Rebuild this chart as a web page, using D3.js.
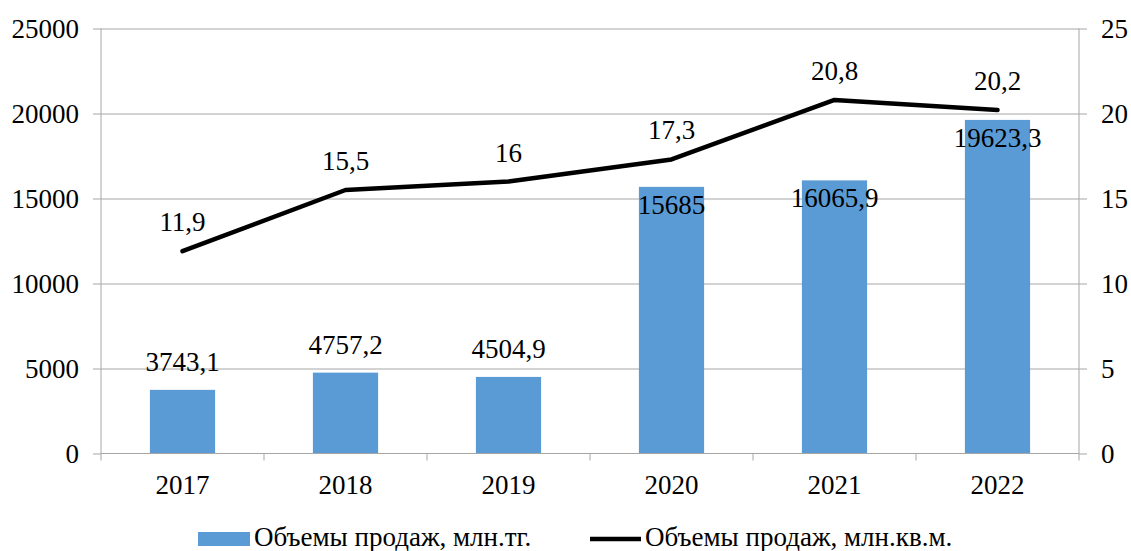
<!DOCTYPE html>
<html>
<head>
<meta charset="utf-8">
<script src="https://cdn.jsdelivr.net/npm/d3@7"></script>
<style>
	body { margin: 0; background: #fff; }
	.grid line { stroke: #a6a6a6; stroke-width: 1; }
	.axis path, .axis line { stroke: #a6a6a6; stroke-width: 1; }
</style>
</head>
<body>
<div id="chart"></div>
<script>
// data
const years = ['2017', '2018', '2019', '2020', '2021', '2022'];
const salesMoney = [3743.1, 4757.2, 4504.9, 15685, 16065.9, 19623.3];   // млн.тг.
const salesArea = [11.9, 15.5, 16, 17.3, 20.8, 20.2];                     // млн.кв.м.
const leftTicks = [0, 5000, 10000, 15000, 20000, 25000];
const rightTicks = [0, 5, 10, 15, 20, 25];
const seriesNames = ['Объемы продаж, млн.тг.', 'Объемы продаж, млн.кв.м.'];

const W = 1131, H = 551;
const m = { top: 28.5, right: 52, bottom: 97.5, left: 101 };
const width = W - m.left - m.right,
	height = H - m.top - m.bottom;
const fs = 27;
const FONT = '"Liberation Serif", "Times New Roman", Times, "DejaVu Serif", serif';
const fmt = v => String(v).replace('.', ',');

const svg = d3.select('#chart').append('svg')
	.attr('width', W)
	.attr('height', H);
const g = svg.append('g').attr('transform', `translate(${m.left},${m.top})`);

const x = d3.scaleBand().domain(years).range([0, width]).paddingInner(0.6).paddingOuter(0.3);
const xc = d3.scaleBand().domain(years).range([0, width]);
const y = d3.scaleLinear().domain([0, 25000]).range([height, 0]);
const y2 = d3.scaleLinear().domain([0, 25]).range([height, 0]);

// gridlines
g.append('g').classed('grid', true)
	.selectAll('line')
	.data(leftTicks.slice(1))
	.enter().append('line')
	.attr('x1', 0).attr('x2', width)
	.attr('y1', d => Math.round(y(d)) + 0.5)
	.attr('y2', d => Math.round(y(d)) + 0.5);

// bars
g.append('g').selectAll('rect')
	.data(salesMoney)
	.enter().append('rect')
	.attr('x', (d, i) => x(years[i]))
	.attr('width', x.bandwidth())
	.attr('y', d => y(d))
	.attr('height', d => height - y(d))
	.attr('fill', '#5b9bd5');

// axes
const leftAxis = d3.axisLeft(y).tickValues(leftTicks).tickSize(8).tickPadding(14).tickFormat(d => d);
const rightAxis = d3.axisRight(y2).tickValues(rightTicks).tickSize(8).tickPadding(14).tickFormat(d => d);

const customAxis = ax => {
	ax.attr('font-family', FONT).attr('font-size', fs);
	ax.selectAll('text').attr('fill', '#000');
	ax.select('.domain').attr('d', null);
};

g.append('g').classed('axis', true)
	.call(leftAxis)
	.call(customAxis)
	.append('line').attr('x1', 0).attr('x2', 0).attr('y1', 0).attr('y2', height);

g.append('g').classed('axis', true)
	.attr('transform', `translate(${width},0)`)
	.call(rightAxis)
	.call(customAxis)
	.append('line').attr('x1', 0).attr('x2', 0).attr('y1', 0).attr('y2', height);

// bottom axis: baseline, boundary ticks, labels
const xAxisG = g.append('g').classed('axis', true)
	.attr('transform', `translate(0,${height})`);
xAxisG.append('line').attr('x1', 0).attr('x2', width).attr('y1', 0).attr('y2', 0);
xAxisG.selectAll('.tk')
	.data(years.concat(['end']))
	.enter().append('line')
	.attr('x1', (d, i) => i * xc.step())
	.attr('x2', (d, i) => i * xc.step())
	.attr('y1', 0).attr('y2', 7);
xAxisG.selectAll('text')
	.data(years)
	.enter().append('text')
	.attr('x', d => xc(d) + xc.bandwidth() / 2)
	.attr('y', 40)
	.attr('text-anchor', 'middle')
	.attr('font-family', FONT)
	.attr('font-size', fs)
	.text(d => d);

// line series
const line = d3.line()
	.x((d, i) => xc(years[i]) + xc.bandwidth() / 2)
	.y(d => y2(d));

g.append('path')
	.datum(salesArea)
	.attr('d', line)
	.attr('fill', 'none')
	.attr('stroke', '#000')
	.attr('stroke-width', 4.5)
	.attr('stroke-linecap', 'round')
	.attr('stroke-linejoin', 'round');

// bar labels (tall bars get them inside the top)
g.append('g').selectAll('text')
	.data(salesMoney)
	.enter().append('text')
	.attr('x', (d, i) => xc(years[i]) + xc.bandwidth() / 2)
	.attr('y', d => d > 10000 ? y(d) + 27 : y(d) - 19)
	.attr('text-anchor', 'middle')
	.attr('font-family', FONT)
	.attr('font-size', fs)
	.text(d => fmt(d));

// line labels
g.append('g').selectAll('text')
	.data(salesArea)
	.enter().append('text')
	.attr('x', (d, i) => xc(years[i]) + xc.bandwidth() / 2)
	.attr('y', d => y2(d) - 20)
	.attr('text-anchor', 'middle')
	.attr('font-family', FONT)
	.attr('font-size', fs)
	.text(d => fmt(d));

// legend
const lg = svg.append('g').attr('font-family', FONT).attr('font-size', fs);
lg.append('rect')
	.attr('x', 198).attr('y', 532).attr('width', 52).attr('height', 14)
	.attr('fill', '#5b9bd5');
lg.append('text')
	.attr('x', 254).attr('y', 546)
	.text(seriesNames[0]);
lg.append('line')
	.attr('x1', 590).attr('x2', 641).attr('y1', 539).attr('y2', 539)
	.attr('stroke', '#000').attr('stroke-width', 4.5);
lg.append('text')
	.attr('x', 645).attr('y', 546)
	.text(seriesNames[1]);
</script>
</body>
</html>
